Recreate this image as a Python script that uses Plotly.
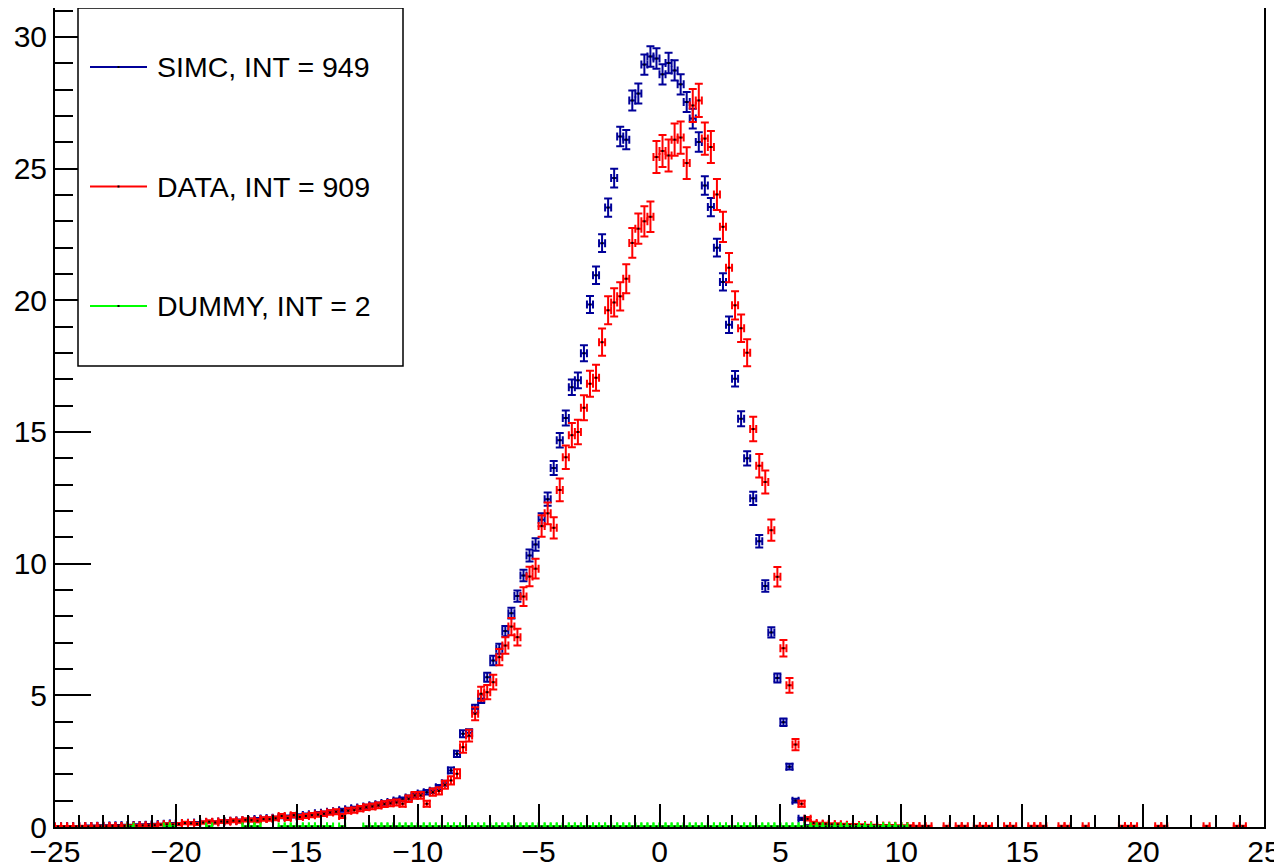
import plotly.graph_objects as go

# ---------------- data ----------------
BIN_LOW = -25.0
BIN_WIDTH = 0.25
N_BINS = 200

simc_values = [
    0.02, 0.02, 0.03, 0.03, 0.03, 0.04, 0.04, 0.05, 0.05, 0.06,
    0.06, 0.07, 0.07, 0.08, 0.08, 0.09, 0.10, 0.10, 0.12, 0.13,
    0.13, 0.15, 0.16, 0.16, 0.18, 0.19, 0.19, 0.21, 0.23, 0.24,
    0.25, 0.26, 0.28, 0.30, 0.32, 0.33, 0.35, 0.38, 0.39, 0.41,
    0.44, 0.46, 0.48, 0.52, 0.54, 0.58, 0.60, 0.64, 0.67, 0.71,
    0.74, 0.78, 0.83, 0.86, 0.91, 0.95, 1.01, 1.05, 1.12, 1.20,
    1.27, 1.32, 1.38, 1.51, 1.66, 2.15, 2.78, 3.54, 3.58, 4.49,
    4.87, 5.69, 6.32, 6.77, 7.44, 8.12, 8.77, 9.55, 10.31, 10.73,
    11.67, 12.45, 13.63, 14.69, 15.53, 16.70, 16.96, 17.99, 19.84, 20.95,
    22.17, 23.52, 24.64, 26.22, 26.10, 27.59, 27.85, 28.95, 29.26, 29.18,
    28.58, 29.01, 28.73, 28.20, 27.53, 26.90, 26.01, 24.36, 23.54, 22.00,
    20.70, 19.07, 17.02, 15.50, 14.00, 12.48, 10.85, 9.15, 7.39, 5.66,
    3.98, 2.29, 1.00, 0.31, 0.05, 0.02, 0, 0, 0, 0,
    0, 0, 0, 0, 0, 0, 0, 0, 0, 0,
    0, 0, 0, 0, 0, 0, 0, 0, 0, 0,
    0, 0, 0, 0, 0, 0, 0, 0, 0, 0,
    0, 0, 0, 0, 0, 0, 0, 0, 0, 0,
    0, 0, 0, 0, 0, 0, 0, 0, 0, 0,
    0, 0, 0, 0, 0, 0, 0, 0, 0, 0,
    0, 0, 0, 0, 0, 0, 0, 0, 0, 0,
]

data_values = [
    0.02, 0.02, 0.02, 0.02, 0.03, 0.02, 0.03, 0.03, 0.03, 0.04,
    0.03, 0.04, 0.05, 0.05, 0.06, 0.06, 0.07, 0.09, 0.10, 0.09,
    0.11, 0.15, 0.14, 0.12, 0.17, 0.20, 0.17, 0.21, 0.20, 0.24,
    0.22, 0.27, 0.26, 0.24, 0.30, 0.30, 0.33, 0.42, 0.34, 0.45,
    0.38, 0.42, 0.45, 0.47, 0.50, 0.55, 0.58, 0.42, 0.62, 0.64,
    0.70, 0.75, 0.78, 0.82, 0.87, 0.90, 0.93, 0.88, 1.07, 1.20,
    1.20, 0.88, 1.32, 1.37, 1.60, 1.77, 2.02, 3.03, 3.47, 4.30,
    5.06, 5.12, 5.50, 6.45, 6.89, 7.61, 7.21, 8.75, 9.51, 9.81,
    11.43, 11.91, 11.36, 12.80, 14.04, 14.88, 15.00, 15.92, 16.83, 17.06,
    18.41, 19.62, 19.92, 20.15, 20.82, 22.18, 22.72, 23.00, 23.17, 25.44,
    25.67, 25.50, 26.10, 26.18, 25.21, 27.40, 27.59, 26.14, 25.82, 24.02,
    22.79, 21.24, 19.81, 18.94, 18.01, 15.11, 13.72, 13.10, 11.27, 9.50,
    6.79, 5.38, 3.13, 0.88, 0.31, 0.15, 0.12, 0.12, 0.10, 0.10,
    0.09, 0.08, 0.08, 0.07, 0.06, 0.06, 0.05, 0.05, 0.05, 0.04,
    0.04, 0.04, 0.03, 0.03, 0.03, 0, 0, 0.03, 0, 0.03,
    0.03, 0, 0.03, 0.03, 0.03, 0, 0, 0.03, 0.03, 0,
    0, 0.03, 0.03, 0.03, 0, 0, 0.03, 0.03, 0, 0,
    0.03, 0, 0, 0, 0, 0, 0.03, 0.03, 0.03, 0,
    0, 0, 0.03, 0.03, 0, 0, 0, 0, 0, 0,
    0.03, 0, 0, 0, 0, 0.03, 0.03, 0, 0, 0,
]

dummy_values = [
    0, 0, 0, 0, 0, 0, 0, 0, 0, 0,
    0, 0, 0.02, 0, 0, 0, 0, 0, 0.02, 0.02,
    0, 0, 0, 0, 0, 0.02, 0, 0, 0, 0,
    0, 0.02, 0.02, 0.02, 0, 0, 0, 0.02, 0.02, 0.02,
    0.02, 0.02, 0.02, 0.02, 0.02, 0.02, 0, 0.02, 0, 0,
    0, 0.02, 0.02, 0.02, 0.02, 0.02, 0.02, 0.02, 0.02, 0.02,
    0.02, 0.02, 0.02, 0.02, 0.02, 0.02, 0.02, 0.02, 0.02, 0.02,
    0.02, 0.02, 0.02, 0.02, 0.02, 0.02, 0.02, 0.02, 0.02, 0.02,
    0.02, 0.02, 0.02, 0.02, 0.02, 0.02, 0.02, 0.02, 0.02, 0.02,
    0.02, 0.02, 0.02, 0.02, 0.02, 0.02, 0.02, 0.02, 0.02, 0.02,
    0.02, 0.02, 0.02, 0.02, 0.02, 0.02, 0.02, 0.02, 0.02, 0.02,
    0.02, 0.02, 0.02, 0.02, 0.02, 0.02, 0.02, 0.02, 0.02, 0.02,
    0.02, 0.02, 0.02, 0.02, 0.02, 0.02, 0.02, 0.02, 0.02, 0.02,
    0.02, 0.02, 0.02, 0.02, 0.02, 0.02, 0.02, 0.02, 0.02, 0.02,
    0.02, 0, 0, 0, 0, 0, 0, 0, 0, 0,
    0, 0, 0, 0, 0, 0, 0, 0, 0, 0,
    0, 0, 0, 0, 0, 0, 0, 0, 0, 0,
    0, 0, 0, 0, 0, 0, 0, 0, 0, 0,
    0, 0, 0, 0, 0, 0, 0, 0, 0, 0,
    0, 0, 0, 0, 0, 0, 0, 0, 0, 0,
]

# per-series error scale (error = scale * sqrt(content))
simc_err_scale = 0.072
data_err_scale = 0.12
dummy_err_scale = 0.05

series_names = ["SIMC, INT = 949", "DATA, INT = 909", "DUMMY, INT = 2"]
series_colors = ["#000099", "#ff0000", "#00ff00"]

# ---------------- figure ----------------
# The page body has an 8px margin, so the figure is made 8px smaller and the
# plot frame lands at page pixels x 55..1264, y 8..827 as in the reference.
BODY = 8
W, H = 1282 - BODY, 865 - BODY
ML, MT = 55 - BODY, 8 - BODY
PW, PH = 1209, 819
MR, MB = W - ML - PW, H - MT - PH
FONT = "Liberation Sans, Arial, Helvetica"

bin_centers = [BIN_LOW + BIN_WIDTH * (i + 0.5) for i in range(N_BINS)]

fig = go.Figure()

for vals, scale, name, color in zip(
    [simc_values, data_values, dummy_values],
    [simc_err_scale, data_err_scale, dummy_err_scale],
    series_names, series_colors,
):
    xs = [c for c, v in zip(bin_centers, vals) if v > 0]
    ys = [v for v in vals if v > 0]
    errs = [scale * v ** 0.5 for v in ys]
    fig.add_trace(go.Scatter(
        x=xs, y=ys, mode="markers", name=name, showlegend=False,
        marker=dict(symbol="square", size=2, color="black"),
        error_y=dict(type="data", array=errs, visible=True,
                     color=color, thickness=2, width=4),
        error_x=dict(type="constant", value=BIN_WIDTH / 2, visible=True,
                     color=color, thickness=2, width=4),
    ))

# legend box drawn like ROOT's TLegend (positions given in page pixels)
def px_x(p):
    return (p - BODY - ML) / PW

def px_y(p):
    return (MT + PH - (p - BODY)) / PH

shapes = [dict(type="rect", xref="paper", yref="paper",
               x0=px_x(78), x1=px_x(403), y0=px_y(366), y1=px_y(8),
               line=dict(color="black", width=1.5), fillcolor="white",
               layer="above")]
annotations = []
for i, (name, color) in enumerate(zip(series_names, series_colors)):
    ly = px_y(67 + 119.5 * i)
    shapes.append(dict(type="line", xref="paper", yref="paper",
                       x0=px_x(90), x1=px_x(147), y0=ly, y1=ly,
                       line=dict(color=color, width=2), layer="above"))
    shapes.append(dict(type="rect", xref="paper", yref="paper",
                       x0=px_x(117.5), x1=px_x(119.5), y0=ly - 1 / PH, y1=ly + 1 / PH,
                       line=dict(width=0), fillcolor="black", layer="above"))
    annotations.append(dict(xref="paper", yref="paper", x=px_x(155), y=ly,
                            xanchor="left", yanchor="middle", showarrow=False,
                            text=name,
                            font=dict(family=FONT, size=28.5, color="black")))

axis_common = dict(
    showgrid=False, zeroline=False, showline=True, linecolor="black",
    linewidth=2, mirror=True, ticks="inside", tickcolor="black",
    tickwidth=2, automargin=False,
    tickfont=dict(family=FONT, size=30, color="black"),
)

fig.update_layout(
    width=W, height=H,
    margin=dict(l=ML, r=MR, t=MT, b=MB, pad=0, autoexpand=False),
    paper_bgcolor="white", plot_bgcolor="white",
    showlegend=False,
    shapes=shapes, annotations=annotations,
    xaxis=dict(range=[-25, 25], dtick=5, tick0=0, ticklen=23,
               ticklabelstandoff=-3,
               minor=dict(dtick=1, ticks="inside", ticklen=12,
                          tickcolor="black", tickwidth=2),
               **axis_common),
    yaxis=dict(range=[0, 31.1], dtick=5, tick0=0, ticklen=36,
               ticklabelstandoff=0,
               minor=dict(dtick=1, ticks="inside", ticklen=18,
                          tickcolor="black", tickwidth=2),
               **axis_common),
)

fig.write_html("out.html")
